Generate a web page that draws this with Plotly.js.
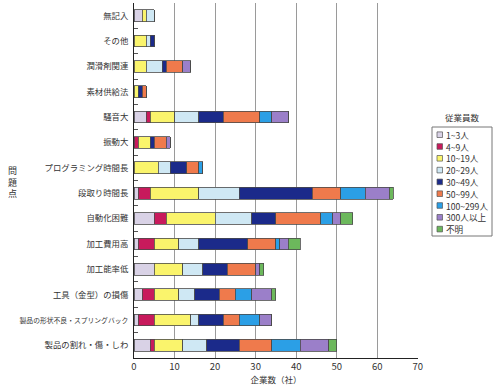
<!DOCTYPE html>
<html><head><meta charset="utf-8">
<script src="https://cdn.plot.ly/plotly-3.0.1.min.js"></script>
<style>html,body{margin:0;padding:0;background:#fff;}</style>
</head><body><div id="chart" style="width:500px;height:385px;"></div>
<script>
// Categories (top to bottom)
var categories = ["無記入","その他","潤滑剤関連","素材供給法","騒音大","振動大","プログラミング時間長","段取り時間長","自動化困難","加工費用高","加工能率低","工具（金型）の損傷","製品の形状不良・スプリングバック","製品の割れ・傷・しわ"];
var seriesNames = ["1~3人","4~9人","10~19人","20~29人","30~49人","50~99人","100~299人","300人以上","不明"];
var colors = ["#d9d2e6","#c81a5c","#faf46c","#cfe8f4","#1b2a8a","#ef7a4c","#2b9fe6","#9b7fc9","#6cb85c"];
// values per series, in category order
var s1_3     = [2,0,0,0,3,0,0,1,5,1,5,2,1,4];
var s4_9     = [0,0,0,0,1,1,0,3,3,4,0,3,4,1];
var s10_19   = [1,3,3,1,6,3,6,12,12,6,7,6,9,7];
var s20_29   = [2,1,4,0,6,0,3,10,9,5,5,4,2,6];
var s30_49   = [0,1,1,1,6,1,4,18,6,12,6,6,6,8];
var s50_99   = [0,0,4,1,9,3,3,7,11,7,7,4,4,8];
var s100_299 = [0,0,0,0,3,0,1,6,3,1,0,4,5,7];
var s300     = [0,0,2,0,4,1,0,6,2,2,1,5,3,7];
var sUnknown = [0,0,0,0,0,0,0,1,3,3,1,1,0,2];
var xTicks = [0,10,20,30,40,50,60,70];

var allSeries = [s1_3,s4_9,s10_19,s20_29,s30_49,s50_99,s100_299,s300,sUnknown];
var font = "Noto Sans CJK JP, Noto Sans, sans-serif";

var traces = allSeries.map(function(vals,i){
  return {type:"bar", orientation:"h", name:seriesNames[i], y:categories, x:vals,
    marker:{color:colors[i], line:{color:"#4a4a4a", width:0.8}}, showlegend:false, hoverinfo:"x+name"};
});

// plot area geometry for legend placement
var L=134, R=418, T=3, B=358;
function px(x){return (x-L)/(R-L);}
function py(y){return (B-y)/(B-T);}

var shapes=[], annotations=[];
shapes.push({type:"rect", xref:"paper", yref:"paper", x0:px(432), x1:px(492), y0:py(236), y1:py(127), line:{color:"#777",width:1}, fillcolor:"#fff", layer:"above"});
annotations.push({xref:"paper", yref:"paper", x:px(462), y:py(117), text:"従業員数", showarrow:false, borderpad:0, font:{family:font,size:8.5,color:"#333"}, xanchor:"center", yanchor:"middle"});
seriesNames.forEach(function(n,i){
  var cy = 134.7 + i*11.8;
  shapes.push({type:"rect", xref:"paper", yref:"paper", x0:px(437), x1:px(442.5), y0:py(cy+2.8), y1:py(cy-2.8), fillcolor:colors[i], line:{color:"#555",width:0.7}, layer:"above"});
  annotations.push({xref:"paper", yref:"paper", x:px(445), y:py(cy), text:n, showarrow:false, borderpad:0, xanchor:"left", yanchor:"middle", font:{family:font,size:8.6,color:"#333"}});
});
annotations.push({xref:"paper", yref:"paper", x:px(12), y:py(182), text:"問<br>題<br>点", showarrow:false, xanchor:"center", yanchor:"middle", font:{family:font,size:9,color:"#333"}});

var tickText = categories.map(function(c){
  return c.length > 12 ? '<span style="font-size:6.8px">'+c+'</span>' : c;
});

var layout = {
  width:500, height:385,
  margin:{l:L, r:500-R, t:T, b:385-B},
  paper_bgcolor:"#fff", plot_bgcolor:"#fff",
  barmode:"stack", bargap:0.54,
  font:{family:font, color:"#333"},
  xaxis:{range:[0,70.05], tickvals:xTicks, ticktext:xTicks.map(String), showgrid:true, gridcolor:"#9a9a9a", gridwidth:1,
    zeroline:false, showline:true, linecolor:"#222", linewidth:1, ticks:"", tickfont:{size:9.5,color:"#333"},
    title:{text:"企業数（社）", font:{size:8.5,color:"#333"}, standoff:2}},
  yaxis:{type:"category", autorange:"reversed", tickmode:"array", tickvals:categories, ticktext:tickText,
    ticks:"inside", ticklen:4, tickcolor:"#555", tickson:"boundaries", showgrid:false, zeroline:false,
    showline:true, linecolor:"#222", linewidth:1, tickfont:{size:8.4,color:"#333"}, ticklabelstandoff:3},
  shapes:shapes, annotations:annotations
};
Plotly.newPlot("chart", traces, layout, {displayModeBar:false, staticPlot:true});
</script></body></html>
